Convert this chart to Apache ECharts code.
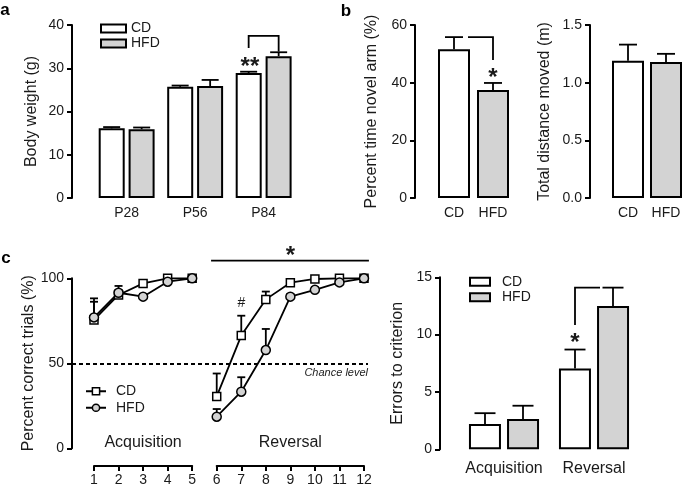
<!DOCTYPE html>
<html>
<head>
<meta charset="utf-8">
<script src="https://cdn.jsdelivr.net/npm/echarts@6/dist/echarts.min.js"></script>
<style>
  html, body { margin: 0; padding: 0; background: #fff; }
  #chart { width: 685px; height: 487px; }
</style>
</head>
<body>
<div id="chart"></div>
<script>
// panel a - body weight (g)
const ages = ['P28', 'P56', 'P84']
const weightCD = [16.1, 25.7, 28.9]
const weightCDSem = [0.3, 0.3, 0.3]
const weightHFD = [15.9, 25.9, 32.8]
const weightHFDSem = [0.4, 1.4, 0.9]

// panel b - Y maze
const diets = ['CD', 'HFD']
const novelArm = [51.6, 37.5]
const novelArmSem = [4.2, 2.4]
const distanceMoved = [1.19, 1.18]
const distanceSem = [0.14, 0.07]

// panel c - reversal learning
const acqTrials = [1, 2, 3, 4, 5]
const revTrials = [6, 7, 8, 9, 10, 11, 12]
const correctCD = [75.5, 90.2, 97, 100, 100, 30.5, 66.3, 87.6, 97.4, 99.6, 100, 100]
const correctCDSem = [12.7, 3, 1, 0.5, 0, 13.5, 11.7, 4.6, 1.5, 0.5, 0, 0]
const correctHFD = [77, 91.5, 89.2, 98, 100, 18.6, 33.3, 57.8, 89.2, 93.2, 97.6, 100]
const correctHFDSem = [9.2, 4, 1.5, 1, 0, 4.5, 8.5, 12.4, 1.5, 1.5, 1, 0]

const phases = ['Acquisition', 'Reversal']
const errorsCD = [2.2, 7.05]
const errorsCDSem = [0.95, 1.65]
const errorsHFD = [2.65, 12.5]
const errorsHFDSem = [1.15, 1.6]

const FONT = 'Liberation Sans'
const INK = '#1a1a1a'
const GREY = '#d3d3d3'
const LINE = { color: '#000', width: 2 }

const chart = echarts.init(document.getElementById('chart'), null, { renderer: 'canvas' })

const valueAxis = (gridIndex, max, interval, name, nameGap, offset, fmt) => ({
  type: 'value', gridIndex, min: 0, max, interval, offset,
  name, nameLocation: 'middle', nameGap, nameRotate: 90,
  nameTextStyle: { fontFamily: FONT, fontSize: 16, color: INK },
  axisLine: { show: true, lineStyle: LINE },
  axisTick: { show: true, length: 5, lineStyle: LINE },
  axisLabel: { fontFamily: FONT, fontSize: 14, color: INK, margin: 8, formatter: fmt },
  splitLine: { show: false }
})

const catAxis = (gridIndex, data, fontSize, margin) => ({
  type: 'category', gridIndex, data,
  axisLine: { show: false }, axisTick: { show: false },
  axisLabel: { fontFamily: FONT, fontSize, color: INK, margin, interval: 0 }
})

const segAxis = (gridIndex, min, max) => ({
  type: 'value', gridIndex, min, max, interval: 1,
  axisLine: { show: true, lineStyle: LINE },
  axisTick: { show: true, length: 5, lineStyle: LINE },
  axisLabel: { fontFamily: FONT, fontSize: 14, color: INK, margin: 7 },
  splitLine: { show: false }
})

// upward-only error bars (mean -> mean + sem)
const errorBars = (xi, yi, xs, means, sems, offset, capW) => ({
  type: 'custom', xAxisIndex: xi, yAxisIndex: yi, z: 1, silent: true, clip: false,
  data: means.map((m, i) => [xs[i], m, m + sems[i]]),
  renderItem: (params, api) => {
    const base = api.coord([api.value(0), api.value(1)])
    const top = api.coord([api.value(0), api.value(2)])
    const x = base[0] + offset
    const style = { stroke: '#000', lineWidth: 1.8 }
    return {
      type: 'group',
      children: [
        { type: 'line', shape: { x1: x, y1: base[1], x2: x, y2: top[1] }, style },
        { type: 'line', shape: { x1: x - capW / 2, y1: top[1], x2: x + capW / 2, y2: top[1] }, style }
      ]
    }
  }
})

const barStyle = (color) => ({ color, borderColor: '#000', borderWidth: 2 })

const withBreak = (vals) => acqTrials.map((t, i) => [t, vals[i]])
  .concat([[5.5, '-']])
  .concat(revTrials.map((t, i) => [t, vals[acqTrials.length + i]]))

const allTrials = acqTrials.concat(revTrials)

const legendText = (lineHeight, left) => ({
  fontFamily: FONT, fontSize: 14, color: INK, lineHeight, padding: [0, 0, 0, left]
})

const option = {
  animation: false,
  backgroundColor: '#fff',
  textStyle: { fontFamily: FONT },
  grid: [
    { left: 92.4, top: 25, width: 205.5, height: 173 },
    { left: 434.5, top: 25, width: 78, height: 173 },
    { left: 609, top: 25, width: 76, height: 173 },
    { left: 72, top: 278.3, width: 296, height: 170 },
    { left: 94, top: 460, width: 98.2, height: 8 },
    { left: 216.7, top: 460, width: 147.3, height: 8 },
    { left: 459, top: 277.3, width: 180, height: 172 }
  ],
  xAxis: [
    catAxis(0, ages, 14, 8),
    catAxis(1, diets, 14, 8),
    catAxis(2, diets, 14, 8),
    { type: 'value', gridIndex: 3, min: 0.104, max: 12.163, show: false },
    segAxis(4, 1, 5),
    segAxis(5, 6, 12),
    catAxis(6, phases, 16, 11)
  ],
  yAxis: [
    valueAxis(0, 40, 10, 'Body weight (g)', 32, 20.4),
    valueAxis(1, 60, 20, 'Percent time novel arm (%)', 35, 19.5),
    valueAxis(2, 1.5, 0.5, 'Total distance moved (m)', 37, 19, v => v.toFixed(1)),
    valueAxis(3, 100, 50, 'Percent correct trials (%)', 32, 0),
    { type: 'value', gridIndex: 4, show: false },
    { type: 'value', gridIndex: 5, show: false },
    valueAxis(6, 15, 5, 'Errors to criterion', 34, 19)
  ],
  legend: [
    {
      data: ['CD', 'HFD'], orient: 'vertical', left: 100, top: 21, padding: 0,
      icon: 'rect', itemWidth: 25, itemHeight: 8, itemGap: 0, selectedMode: false,
      itemStyle: { borderColor: '#000', borderWidth: 2 },
      textStyle: legendText(15, 0)
    },
    {
      data: [
        { name: 'CD trials', itemStyle: { color: '#fff', borderColor: '#000', borderWidth: 1.5 } },
        { name: 'HFD trials', itemStyle: { color: GREY, borderColor: '#000', borderWidth: 1.5 } }
      ],
      orient: 'vertical', left: 85, top: 383, padding: 0,
      itemWidth: 20, itemHeight: 9, itemGap: 0, selectedMode: false,
      formatter: n => n.split(' ')[0],
      textStyle: legendText(16.5, 5)
    },
    {
      data: ['CD', 'HFD'], orient: 'vertical', left: 469, top: 274, padding: 0,
      icon: 'rect', itemWidth: 20, itemHeight: 8, itemGap: 0, selectedMode: false,
      itemStyle: { borderColor: '#000', borderWidth: 2 },
      textStyle: legendText(15.5, 7)
    }
  ],
  series: [
    // a
    { type: 'bar', name: 'CD', xAxisIndex: 0, yAxisIndex: 0, data: weightCD, barWidth: 26, barGap: '15%', itemStyle: barStyle('#fff') },
    { type: 'bar', name: 'HFD', xAxisIndex: 0, yAxisIndex: 0, data: weightHFD, barWidth: 26, barGap: '15%', itemStyle: barStyle(GREY) },
    errorBars(0, 0, [0, 1, 2], weightCD, weightCDSem, -15, 17),
    errorBars(0, 0, [0, 1, 2], weightHFD, weightHFDSem, 15, 17),
    // b
    {
      type: 'bar', name: 'novel arm', xAxisIndex: 1, yAxisIndex: 1, barWidth: 32,
      data: novelArm.map((v, i) => ({ value: v, itemStyle: barStyle(i ? GREY : '#fff') }))
    },
    errorBars(1, 1, [0, 1], novelArm, novelArmSem, 0, 18),
    {
      type: 'bar', name: 'distance', xAxisIndex: 2, yAxisIndex: 2, barWidth: 32,
      data: distanceMoved.map((v, i) => ({ value: v, itemStyle: barStyle(i ? GREY : '#fff') }))
    },
    errorBars(2, 2, [0, 1], distanceMoved, distanceSem, 0, 18),
    // c left
    errorBars(3, 3, allTrials, correctCD, correctCDSem, 0, 8),
    errorBars(3, 3, allTrials, correctHFD, correctHFDSem, 0, 8),
    {
      type: 'line', name: 'CD trials', xAxisIndex: 3, yAxisIndex: 3, clip: false,
      data: withBreak(correctCD), connectNulls: false,
      symbol: 'rect', symbolSize: 8,
      lineStyle: { color: '#000', width: 1.8 },
      itemStyle: { color: '#fff', borderColor: '#000', borderWidth: 1.5 },
      markLine: {
        silent: true, symbol: 'none',
        lineStyle: { color: '#000', type: [4, 3], width: 1.8 },
        label: {
          position: 'insideEndBottom', formatter: 'Chance level',
          fontFamily: FONT, fontStyle: 'italic', fontSize: 11, color: INK, distance: [0, 4]
        },
        data: [{ yAxis: 50 }]
      }
    },
    {
      type: 'line', name: 'HFD trials', xAxisIndex: 3, yAxisIndex: 3, clip: false,
      data: withBreak(correctHFD), connectNulls: false,
      symbol: 'circle', symbolSize: 9,
      lineStyle: { color: '#000', width: 1.8 },
      itemStyle: { color: GREY, borderColor: '#000', borderWidth: 1.5 }
    },
    // c right
    { type: 'bar', name: 'CD', xAxisIndex: 6, yAxisIndex: 6, data: errorsCD, barWidth: 32, barGap: '19%', itemStyle: barStyle('#fff') },
    { type: 'bar', name: 'HFD', xAxisIndex: 6, yAxisIndex: 6, data: errorsHFD, barWidth: 32, barGap: '19%', itemStyle: barStyle(GREY) },
    errorBars(6, 6, [0, 1], errorsCD, errorsCDSem, -19, 21),
    errorBars(6, 6, [0, 1], errorsHFD, errorsHFDSem, 19, 21)
  ]
}

chart.setOption(option)

// annotations placed from data coordinates
const px = (xi, yi, pt) => chart.convertToPixel({ xAxisIndex: xi, yAxisIndex: yi }, pt)
const stroke = { stroke: '#000', lineWidth: 1.8, fill: null }
const label = (x, y, text, size, extra) => ({
  type: 'text', x, y,
  style: Object.assign({ text, fontFamily: FONT, fontSize: size, fill: INK, align: 'center', verticalAlign: 'middle' }, extra || {})
})
const star = (x, y, text, size) => label(x, y + size * 0.22, text, size, { fontWeight: 'bold' })

const graphics = []

// a: P84 bracket + **
{
  const l = px(0, 0, [2, 34.7]), t = px(0, 0, [2, 37.5]), r = px(0, 0, [2, 33.9])
  graphics.push({ type: 'polyline', shape: { points: [[l[0] - 15, l[1]], [l[0] - 15, t[1]], [l[0] + 15, t[1]], [l[0] + 15, r[1]]] }, style: stroke })
  const s = px(0, 0, [2, 31.4])
  graphics.push(star(s[0] - 13.7, s[1], '**', 24))
}
// b: novel arm bracket + *
{
  const c = px(1, 1, [0, novelArm[0] + novelArmSem[0]]), h = px(1, 1, [1, 47.9])
  graphics.push({ type: 'polyline', shape: { points: [[c[0] + 14, c[1]], [h[0], c[1]], [h[0], h[1]]] }, style: stroke })
  const s = px(1, 1, [1, 43.4])
  graphics.push(star(s[0], s[1], '*', 24))
}
// c left: significance line, #, phase names
{
  const a = px(3, 3, [5.77, 110.4]), b = px(3, 3, [12.2, 110.4])
  graphics.push({ type: 'line', shape: { x1: a[0], y1: a[1], x2: b[0], y2: b[1] }, style: stroke })
  const s = px(3, 3, [9, 116])
  graphics.push(star(s[0], s[1], '*', 24))
  const h = px(3, 3, [7, 85.5])
  graphics.push(label(h[0], h[1], '#', 14))
  const acq = px(3, 3, [3, 3.1]), rev = px(3, 3, [9, 3.1])
  graphics.push(label(acq[0], acq[1], phases[0], 16))
  graphics.push(label(rev[0], rev[1], phases[1], 16))
}
// c right: reversal bracket + *
{
  const b = px(6, 6, [1, 10.84]), t = px(6, 6, [1, errorsHFD[1] + errorsHFDSem[1]])
  graphics.push({ type: 'polyline', shape: { points: [[b[0] - 19, b[1]], [b[0] - 19, t[1]], [b[0] + 6, t[1]]] }, style: stroke })
  const s = px(6, 6, [1, 9.7])
  graphics.push(star(s[0] - 19, s[1], '*', 24))
}
// panel letters
graphics.push(label(5, 10, 'a', 17, { fontWeight: 'bold', fill: '#000' }))
graphics.push(label(346, 11, 'b', 17, { fontWeight: 'bold', fill: '#000' }))
graphics.push(label(6, 258, 'c', 17, { fontWeight: 'bold', fill: '#000' }))

chart.setOption({ graphic: graphics })
</script>
</body>
</html>
